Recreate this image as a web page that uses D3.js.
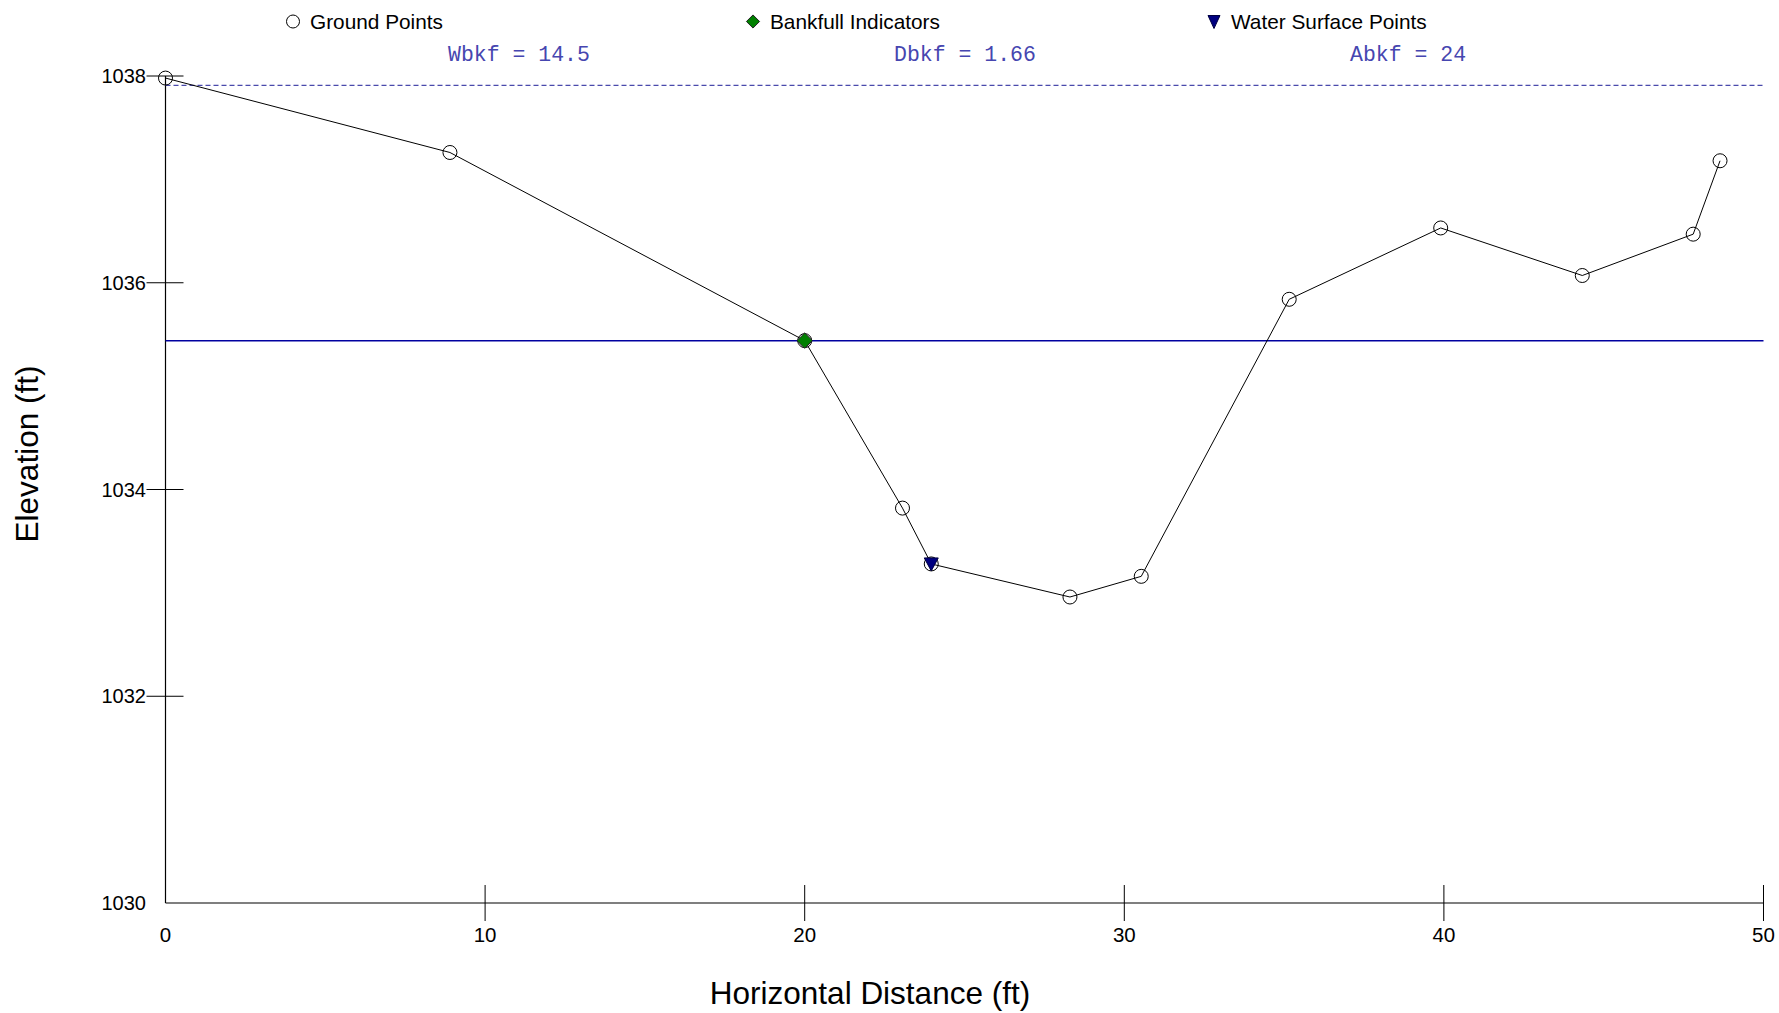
<!DOCTYPE html>
<html><head><meta charset="utf-8">
<script src="https://cdn.jsdelivr.net/npm/d3@7"></script>
<style>
html,body{margin:0;padding:0;background:#fff;}
svg{display:block;}
text{font-family:"Liberation Sans",Arial,sans-serif;}
</style></head>
<body>
<svg id="chart" width="1779" height="1013"></svg>
<script>
// ---- data ----
const groundX = [0, 8.9, 20.0, 23.06, 23.96, 28.3, 30.53, 35.16, 39.9, 44.33, 47.8, 48.64];
const groundY = [1037.98, 1037.26, 1035.44, 1033.82, 1033.28, 1032.96, 1033.16, 1035.84, 1036.53, 1036.07, 1036.47, 1037.18];
const bankfullX = [20.0];
const bankfullY = [1035.44];
const waterX = [23.96];
const waterY = [1033.28];
const bankfullElevation = 1035.44;
const topDashedElevation = 1037.91;
const xTickMarks = [10, 20, 30, 40, 50];
const xTickLabels = [0, 10, 20, 30, 40, 50];
const yTickMarks = [1032, 1034, 1036, 1038];
const yTickLabels = [1030, 1032, 1034, 1036, 1038];
const legendLabels = ["Ground Points", "Bankfull Indicators", "Water Surface Points"];
const statLabels = ["Wbkf = 14.5", "Dbkf = 1.66", "Abkf = 24"];

(function () {
// ---- layout ----
const svg = d3.select("#chart");
const pL = 165.5, pR = 1763.5, pT = 76, pB = 903;
const x = d3.scaleLinear().domain([0, 50]).range([pL, pR]);
const y = d3.scaleLinear().domain([1030, 1038]).range([pB, pT]);

// axes lines
svg.append("line").attr("x1", pL).attr("x2", pL).attr("y1", pT).attr("y2", pB)
  .attr("stroke", "#000").attr("stroke-width", 1.2);
svg.append("line").attr("x1", pL).attr("x2", pR).attr("y1", pB).attr("y2", pB)
  .attr("stroke", "#000").attr("stroke-width", 1.2);

// y ticks (crossing)
svg.selectAll(".ytick").data(yTickMarks).enter().append("line")
  .attr("x1", pL - 19).attr("x2", pL + 18)
  .attr("y1", d => y(d)).attr("y2", d => y(d))
  .attr("stroke", "#000").attr("stroke-width", 1);
svg.selectAll(".ylab").data(yTickLabels).enter().append("text")
  .attr("x", pL - 19.5).attr("y", d => y(d)).attr("dy", "0.36em")
  .attr("text-anchor", "end").attr("font-size", 20).text(d => d);

// x ticks (crossing)
svg.selectAll(".xtick").data(xTickMarks).enter().append("line")
  .attr("x1", d => x(d)).attr("x2", d => x(d))
  .attr("y1", pB - 18).attr("y2", pB + 18)
  .attr("stroke", "#000").attr("stroke-width", 1);
svg.selectAll(".xlab").data(xTickLabels).enter().append("text")
  .attr("x", d => x(d)).attr("y", 934.5).attr("dy", "0.36em")
  .attr("text-anchor", "middle").attr("font-size", 20.5).text(d => d);

// axis titles
svg.append("text").attr("x", 870).attr("y", 1004)
  .attr("text-anchor", "middle").attr("font-size", 31.5).text("Horizontal Distance (ft)");
svg.append("text").attr("transform", "translate(27,454) rotate(-90)").attr("dy", "0.36em")
  .attr("text-anchor", "middle").attr("font-size", 31.5).text("Elevation (ft)");

// dashed top line
svg.append("line").attr("x1", pL).attr("x2", pR)
  .attr("y1", y(topDashedElevation)).attr("y2", y(topDashedElevation))
  .attr("stroke", "#4a4aac").attr("stroke-width", 1.2).attr("stroke-dasharray", "5,3");

// bankfull line
svg.append("line").attr("x1", pL).attr("x2", pR)
  .attr("y1", y(bankfullElevation)).attr("y2", y(bankfullElevation))
  .attr("stroke", "#0000a0").attr("stroke-width", 1.5);

// ground profile
const ground = groundX.map((d, i) => [d, groundY[i]]);
svg.append("path").datum(ground)
  .attr("d", d3.line().x(d => x(d[0])).y(d => y(d[1])))
  .attr("fill", "none").attr("stroke", "#000").attr("stroke-width", 1);
svg.selectAll(".gp").data(ground).enter().append("circle")
  .attr("cx", d => x(d[0])).attr("cy", d => y(d[1])).attr("r", 7)
  .attr("fill", "none").attr("stroke", "#000").attr("stroke-width", 1);

// markers
const diamond = d3.symbol().type(d3.symbolDiamond2).size(150);
const tri = "M-7,-6 L7,-6 L0,7 Z";
svg.selectAll(".bk").data(bankfullX.map((d, i) => [d, bankfullY[i]])).enter().append("path")
  .attr("transform", d => `translate(${x(d[0])},${y(d[1])})`)
  .attr("d", diamond).attr("fill", "#008000").attr("stroke", "#222").attr("stroke-width", 1);
svg.selectAll(".ws").data(waterX.map((d, i) => [d, waterY[i]])).enter().append("path")
  .attr("transform", d => `translate(${x(d[0])},${y(d[1])})`)
  .attr("d", tri).attr("fill", "#000080").attr("stroke", "#000040").attr("stroke-width", 1);

// legend
const legendMarkerX = [293, 753, 1214];
const ly = 21.5;
svg.append("circle").attr("cx", legendMarkerX[0]).attr("cy", ly).attr("r", 6.5)
  .attr("fill", "none").attr("stroke", "#000").attr("stroke-width", 1);
svg.append("path").attr("transform", `translate(${legendMarkerX[1]},${ly})`)
  .attr("d", d3.symbol().type(d3.symbolDiamond2).size(110)).attr("fill", "#008000").attr("stroke", "#222");
svg.append("path").attr("transform", `translate(${legendMarkerX[2]},${ly})`)
  .attr("d", "M-6,-6 L6,-6 L0,7 Z").attr("fill", "#000080").attr("stroke", "#000040");
svg.selectAll(".lg").data(legendLabels).enter().append("text")
  .attr("x", (d, i) => legendMarkerX[i] + 17).attr("y", ly).attr("dy", "0.36em")
  .attr("font-size", 20.8).text(d => d);

// stats
const statX = [448, 894, 1350];
svg.selectAll(".st").data(statLabels).enter().append("text")
  .attr("x", (d, i) => statX[i]).attr("y", 53).attr("dy", "0.35em")
  .attr("font-size", 21.5).attr("fill", "#4646b0")
  .style("font-family", "'Liberation Mono','Courier New',monospace")
  .style("white-space", "pre")
  .text(d => d);
})();
</script>
</body></html>
